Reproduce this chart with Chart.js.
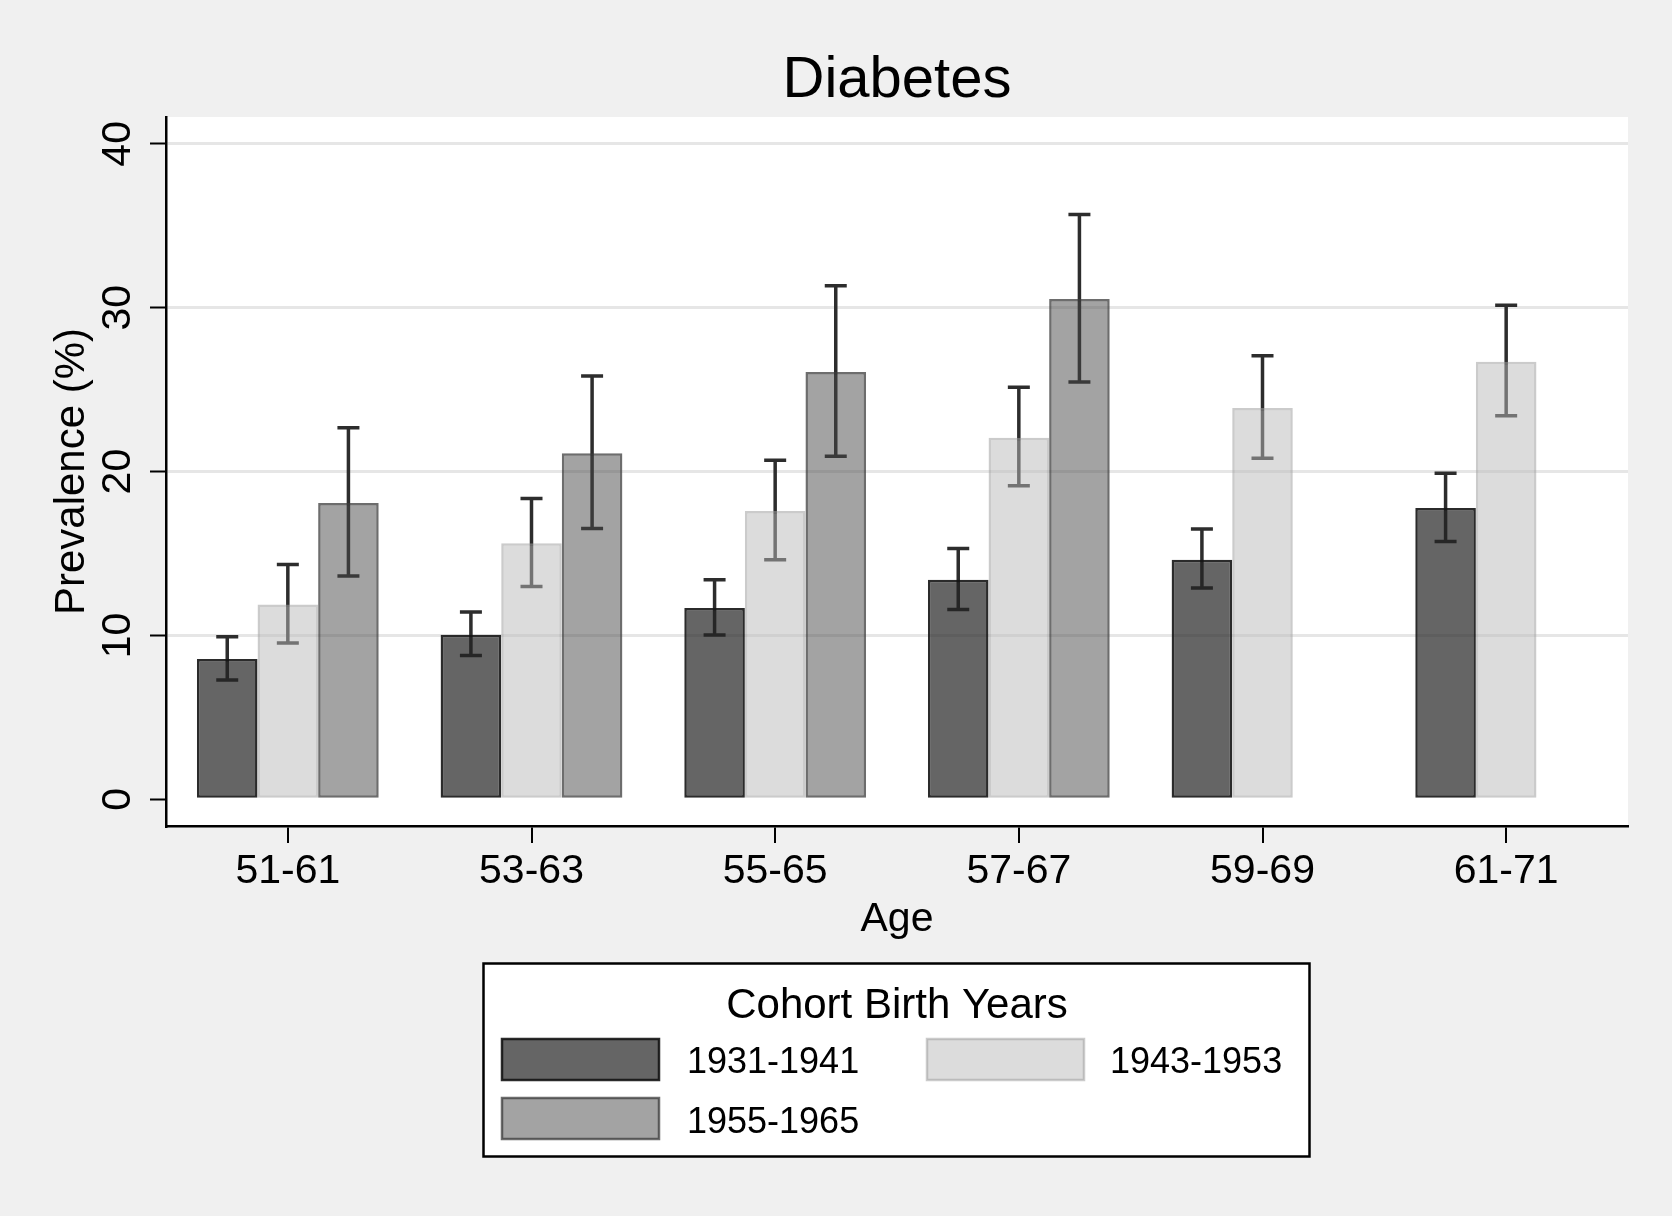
<!DOCTYPE html>
<html>
<head>
    <title>Diabetes</title>
    <style>
        body {
            margin: 0;
            background: #f0f0f0;
        }
        canvas {
            display: block;
        }
    </style>
</head>
<body>
    <canvas id="chart" width="1672" height="1216"></canvas>
    <script src="https://cdn.jsdelivr.net/npm/chart.js"></script>
    <script>
        // categories and series
        const ageGroups = ['51-61', '53-63', '55-65', '57-67', '59-69', '61-71'];
        const cohorts = ['1931-1941', '1943-1953', '1955-1965'];
        const yTicks = [0, 10, 20, 30, 40];

        // prevalence (%) with lower / upper confidence limits
        const prev1931 = [8.56, 10.04, 11.67, 13.40, 14.62, 17.77];
        const low1931 = [7.28, 8.78, 10.02, 11.59, 12.89, 15.73];
        const high1931 = [9.92, 11.43, 13.40, 15.31, 16.49, 19.90];

        const prev1943 = [11.89, 15.63, 17.60, 22.07, 23.88, 26.71];
        const low1943 = [9.54, 12.99, 14.62, 19.13, 20.82, 23.41];
        const high1943 = [14.33, 18.35, 20.69, 25.15, 27.07, 30.15];

        const prev1955 = [18.09, 21.12, 26.08, 30.53, null, null];
        const low1955 = [13.62, 16.53, 20.94, 25.47, null, null];
        const high1955 = [22.68, 25.84, 31.34, 35.69, null, null];

        const FONT = '"Liberation Sans", Arial, Helvetica, sans-serif';
        Chart.defaults.font.family = FONT;
        Chart.defaults.color = '#000';

        const background = {
            id: 'background',
            beforeDraw(chart) {
                const {ctx, chartArea: a} = chart;
                ctx.save();
                ctx.fillStyle = '#f0f0f0';
                ctx.fillRect(0, 0, chart.width, chart.height);
                ctx.fillStyle = '#fff';
                ctx.fillRect(a.left, a.top, a.right - a.left, a.bottom - a.top);
                ctx.restore();
            }
        };

        // error bars go under the (semi transparent) bars
        const errorBars = {
            id: 'errorBars',
            beforeDatasetsDraw(chart) {
                const {ctx} = chart;
                const y = chart.scales.y;
                ctx.save();
                ctx.strokeStyle = '#2d2d2d';
                ctx.lineWidth = 3.5;
                ctx.lineCap = 'butt';
                chart.data.datasets.forEach((ds, i) => {
                    const meta = chart.getDatasetMeta(i);
                    meta.data.forEach((bar, j) => {
                        if (ds.low[j] == null) return;
                        const x = bar.x;
                        const y1 = y.getPixelForValue(ds.low[j]);
                        const y2 = y.getPixelForValue(ds.high[j]);
                        ctx.beginPath();
                        ctx.moveTo(x, y1);
                        ctx.lineTo(x, y2);
                        ctx.moveTo(x - 11, y1);
                        ctx.lineTo(x + 11, y1);
                        ctx.moveTo(x - 11, y2);
                        ctx.lineTo(x + 11, y2);
                        ctx.stroke();
                    });
                });
                ctx.restore();
            }
        };

        const decorations = {
            id: 'decorations',
            afterDraw(chart) {
                const {ctx, chartArea: a} = chart;
                const y = chart.scales.y;
                ctx.save();

                // title
                ctx.fillStyle = '#000';
                ctx.font = '58px ' + FONT;
                ctx.textAlign = 'center';
                ctx.textBaseline = 'alphabetic';
                ctx.fillText('Diabetes', (a.left + a.right) / 2, 97);

                // rotated y tick labels
                ctx.font = '41px ' + FONT;
                yTicks.forEach(v => {
                    ctx.save();
                    ctx.translate(130, y.getPixelForValue(v));
                    ctx.rotate(-Math.PI / 2);
                    ctx.fillText(String(v), 0, 0);
                    ctx.restore();
                });

                // legend
                const bx = 483.5, by = 963.5, bw = 826, bh = 193;
                ctx.fillStyle = '#fff';
                ctx.fillRect(bx, by, bw, bh);
                ctx.strokeStyle = '#000';
                ctx.lineWidth = 2.5;
                ctx.strokeRect(bx, by, bw, bh);

                ctx.fillStyle = '#000';
                ctx.font = '42px ' + FONT;
                ctx.textAlign = 'center';
                ctx.fillText('Cohort Birth Years', (a.left + a.right) / 2, 1018);

                const slots = [
                    {x: 502, y: 1039, tx: 687, ty: 1073},
                    {x: 927, y: 1039, tx: 1110, ty: 1073},
                    {x: 502, y: 1098, tx: 687, ty: 1133}
                ];
                ctx.font = '36px ' + FONT;
                ctx.textAlign = 'left';
                chart.data.datasets.forEach((ds, i) => {
                    const s = slots[i];
                    ctx.fillStyle = ds.backgroundColor;
                    ctx.fillRect(s.x, s.y, 157, 41);
                    ctx.strokeStyle = ds.borderColor;
                    ctx.lineWidth = 2.5;
                    ctx.strokeRect(s.x, s.y, 157, 41);
                    ctx.fillStyle = '#000';
                    ctx.fillText(ds.label, s.tx, s.ty);
                });
                ctx.restore();
            }
        };

        new Chart(document.getElementById('chart').getContext('2d'), {
            type: 'bar',
            data: {
                labels: ageGroups,
                datasets: [{
                    label: cohorts[0],
                    data: prev1931,
                    low: low1931,
                    high: high1931,
                    backgroundColor: 'rgba(36, 36, 36, 0.7)',
                    borderColor: 'rgba(20, 20, 20, 0.9)'
                }, {
                    label: cohorts[1],
                    data: prev1943,
                    low: low1943,
                    high: high1943,
                    backgroundColor: 'rgba(186, 186, 186, 0.5)',
                    borderColor: 'rgba(160, 160, 160, 0.55)'
                }, {
                    label: cohorts[2],
                    data: prev1955,
                    low: low1955,
                    high: high1955,
                    backgroundColor: 'rgba(71, 71, 71, 0.5)',
                    borderColor: 'rgba(60, 60, 60, 0.75)'
                }]
            },
            options: {
                responsive: false,
                animation: false,
                devicePixelRatio: 1,
                layout: {
                    padding: {top: 117, right: 44, bottom: 250, left: 0}
                },
                datasets: {
                    bar: {
                        borderWidth: 2.5,
                        borderSkipped: false,
                        categoryPercentage: 0.746,
                        barPercentage: 1.0
                    }
                },
                plugins: {
                    legend: {display: false},
                    tooltip: {enabled: false},
                    title: {display: false}
                },
                scales: {
                    x: {
                        offset: true,
                        grid: {
                            offset: false,
                            drawOnChartArea: false,
                            drawTicks: true,
                            tickLength: 17,
                            lineWidth: 2,
                            tickColor: '#000'
                        },
                        border: {color: '#000', width: 2.5},
                        ticks: {
                            font: {size: 41},
                            color: '#000',
                            padding: 4,
                            autoSkip: false,
                            maxRotation: 0
                        },
                        title: {
                            display: true,
                            text: 'Age',
                            font: {size: 41},
                            color: '#000',
                            padding: {top: 0, bottom: 22}
                        },
                        afterFit(scale) {
                            scale.height = 140;
                        }
                    },
                    y: {
                        min: -1.63,
                        max: 41.64,
                        afterBuildTicks(scale) {
                            scale.ticks = yTicks.map(v => ({value: v}));
                        },
                        grid: {
                            color: ctx => ctx.tick && ctx.tick.value === 0 ? 'rgba(0,0,0,0)' : '#e6e6e6',
                            lineWidth: 3,
                            drawTicks: true,
                            tickLength: 16,
                            tickColor: '#000',
                            tickWidth: 2
                        },
                        border: {color: '#000', width: 2.5},
                        ticks: {display: false},
                        title: {
                            display: true,
                            text: 'Prevalence (%)',
                            font: {size: 42},
                            color: '#000',
                            padding: {top: 47, bottom: 0}
                        },
                        afterFit(scale) {
                            scale.width = 166;
                        }
                    }
                }
            },
            plugins: [background, errorBars, decorations]
        });
    </script>
</body>
</html>
